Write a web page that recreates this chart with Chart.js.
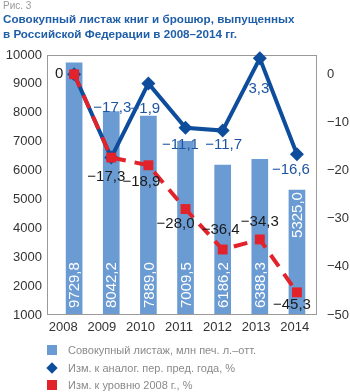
<!DOCTYPE html>
<html lang="ru">
<head>
<meta charset="utf-8">
<script src="https://cdn.jsdelivr.net/npm/chart.js@4.4.1/dist/chart.umd.min.js"></script>
<style>
  body { margin: 0; background: #fff; font-family: "Liberation Sans", Arial, sans-serif; }
  #wrap { position: relative; width: 350px; height: 392px; overflow: hidden; }
  #wrap canvas { position: absolute; left: 0; top: 0; }
  .fig { position: absolute; left: 3px; top: 0; font-size: 10px; color: #9a9a9a; }
  .title { position: absolute; left: 3px; top: 11px; font-family: "Liberation Sans Narrow", "Liberation Sans", Arial, sans-serif;
           font-size: 15px; font-weight: bold; line-height: 15px; color: #1f5ea8; white-space: nowrap; }
  .leg { position: absolute; left: 47px; height: 12px; font-size: 11px; line-height: 12px; color: #8a8a8a; }
  .leg i { position: absolute; left: 0; top: 1px; width: 10px; height: 10px; }
  .leg span { position: absolute; left: 21px; top: 0; white-space: nowrap; }
  .leg i.dia { left: 1px; top: 1.5px; width: 8px; height: 8px; transform: rotate(45deg); }
</style>
</head>
<body>
<div id="wrap">
  <canvas id="chart"></canvas>
  <div class="fig">Рис. 3</div>
  <div class="title" id="title">Совокупный листаж книг и брошюр, выпущенных<br>в Российской Федерации в 2008–2014 гг.</div>
  <div class="leg" style="top:344px"><i style="background:#6b9bd3"></i><span>Совокупный листаж, млн печ. л.–отт.</span></div>
  <div class="leg" style="top:362px"><i class="dia" style="background:#0e4d9c"></i><span>Изм. к аналог. пер. пред. года, %</span></div>
  <div class="leg" style="top:379px"><i style="background:#e3232b"></i><span>Изм. к уровню 2008 г., %</span></div>
</div>
<script>
const years = ['2008', '2009', '2010', '2011', '2012', '2013', '2014'];
const volume = [9729.8, 8042.2, 7889.0, 7009.5, 6186.2, 6388.3, 5325.0];
const changePrevYear = [0, -17.3, -1.9, -11.1, -11.7, 3.3, -16.6];
const changeTo2008 = [0, -17.3, -18.9, -28.0, -36.4, -34.3, -45.3];
const volumeRange = [1000, 10000];
const changeRange = [-50, 4];

const barColor = '#6b9bd3';
const blue = '#0e4d9c';
const red = '#e3232b';
const font = 'Liberation Sans, Arial, sans-serif';

// label placement relative to each marker (null = no label)
const prevYearLabelShift = [null, [1, -50], [-3, 25], [-5, 17], [1, 14], [-1, 30], [-6, 16]];
const to2008LabelShift = [[-15, 0], [-5, 19], [-7, 17], [-10, 15], [-2, -20], [0, -18], [-5, 12]];

// title should span about 292px like the original
const title = document.getElementById('title');
const tw = title.scrollWidth;
if (tw > 0) title.style.fontSize = (15 * 292 / tw).toFixed(2) + 'px';

function pts(values) {
  return values.map((v, i) => ({ x: i, y: v }));
}

function fmt(v) {
  if (v === 0) return '0';
  return v.toFixed(1).replace('.', ',').replace('-', '\u2212');
}

// frame around the plot, drawn over the bars but under the lines
const frame = {
  id: 'frame',
  afterDatasetDraw(chart, args) {
    if (args.meta.type !== 'bar') return;
    const { ctx, chartArea: a } = chart;
    ctx.save();
    ctx.strokeStyle = '#9a9a9a';
    ctx.lineWidth = 1;
    ctx.strokeRect(a.left + 0.5, a.top + 0.5, a.width - 1, a.height - 1);
    ctx.restore();
  }
};

const valueLabels = {
  id: 'valueLabels',
  afterDatasetsDraw(chart) {
    const ctx = chart.ctx;
    ctx.save();

    // bar values, rotated, white
    const bars = chart.getDatasetMeta(2);
    ctx.font = '15px ' + font;
    ctx.fillStyle = '#ffffff';
    ctx.textBaseline = 'middle';
    bars.data.forEach((bar, i) => {
      ctx.save();
      if (i === volume.length - 1) {
        ctx.translate(bar.x, bar.y + 2);
        ctx.rotate(-Math.PI / 2);
        ctx.textAlign = 'right';
      } else {
        ctx.translate(bar.x, bar.base - 7);
        ctx.rotate(-Math.PI / 2);
        ctx.textAlign = 'left';
      }
      ctx.fillText(fmt(volume[i]), 0, 1);
      ctx.restore();
    });

    ctx.textAlign = 'center';
    const drawSet = (idx, values, shifts, color) => {
      ctx.fillStyle = color;
      chart.getDatasetMeta(idx).data.forEach((p, i) => {
        const s = shifts[i];
        if (!s) return;
        ctx.fillText(fmt(values[i]), p.x + s[0], p.y + s[1]);
      });
    };
    drawSet(1, changePrevYear, prevYearLabelShift, '#1d55a0');
    drawSet(0, changeTo2008, to2008LabelShift, '#1a1a1a');
    ctx.restore();
  }
};

new Chart(document.getElementById('chart'), {
  type: 'bar',
  data: {
    datasets: [
      {
        type: 'line',
        label: 'Изм. к уровню 2008 г., %',
        data: pts(changeTo2008),
        xAxisID: 'xd',
        yAxisID: 'y2',
        borderColor: red,
        borderWidth: 4,
        borderDash: [14, 9],
        pointStyle: 'rect',
        pointRadius: 7,
        pointBackgroundColor: red,
        pointBorderWidth: 0,
        clip: false,
        order: 0
      },
      {
        type: 'line',
        label: 'Изм. к аналог. пер. пред. года, %',
        data: pts(changePrevYear),
        xAxisID: 'xd',
        yAxisID: 'y2',
        borderColor: blue,
        borderWidth: 4,
        pointStyle: 'rectRot',
        pointRadius: 7,
        pointBackgroundColor: blue,
        pointBorderWidth: 0,
        clip: false,
        order: 1
      },
      {
        type: 'bar',
        label: 'Совокупный листаж, млн печ. л.–отт.',
        data: pts(volume),
        xAxisID: 'xd',
        yAxisID: 'y',
        base: volumeRange[0],
        backgroundColor: barColor,
        barThickness: 16,
        order: 2
      }
    ]
  },
  options: {
    responsive: true,
    maintainAspectRatio: false,
    animation: false,
    layout: { padding: { top: 55, bottom: 52, left: 0, right: 0 } },
    plugins: { legend: { display: false }, tooltip: { enabled: false } },
    scales: {
      x: {
        type: 'category',
        labels: years,
        offset: true,
        grid: { display: false, drawTicks: false },
        border: { display: false },
        ticks: { color: '#333', font: { family: font, size: 13 }, padding: 5, labelOffset: -3 },
        afterFit(s) { s.height = 25; }
      },
      xd: { type: 'linear', display: false, offset: false, min: -0.73, max: 6.54 },
      y: {
        position: 'left',
        min: volumeRange[0],
        max: volumeRange[1],
        grid: { display: false, drawTicks: false },
        border: { display: false },
        ticks: {
          stepSize: 1000,
          color: '#333',
          font: { family: font, size: 13 },
          padding: 5,
          callback: v => String(v)
        },
        afterFit(s) { s.width = 47; }
      },
      y2: {
        position: 'right',
        min: changeRange[0],
        max: changeRange[1],
        grid: { display: false, drawTicks: false },
        border: { display: false },
        ticks: {
          stepSize: 10,
          color: '#333',
          font: { family: font, size: 13 },
          padding: 10,
          callback: v => String(v).replace('-', '\u2212')
        },
        afterBuildTicks(s) { s.ticks = s.ticks.filter(t => t.value % 10 === 0); },
        afterFit(s) { s.width = 33; }
      }
    }
  },
  plugins: [frame, valueLabels]
});
</script>
</body>
</html>
